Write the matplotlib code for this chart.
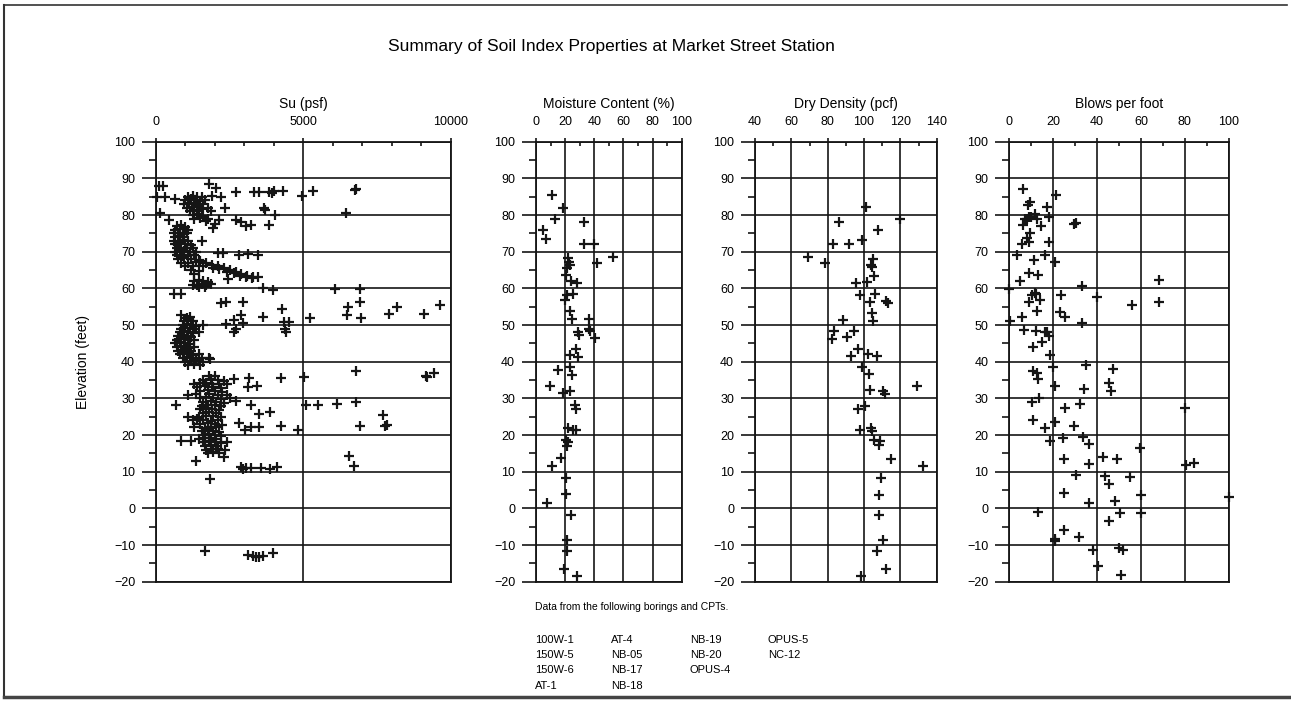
import matplotlib
matplotlib.use("Agg")
import matplotlib.pyplot as plt
import numpy as np
from matplotlib.ticker import MultipleLocator
from matplotlib.lines import Line2D

plt.rcParams['font.family'] = ['Liberation Sans', 'DejaVu Sans']

# undrained shear strength (psf, elevation ft)
su_obs = [
    (110, 88), (250, 88), (1800, 88.4), (2020, 87.5), (2720, 86.4), (3340, 86.4),
    (3510, 86.4), (3850, 86.4), (3950, 86.1), (4010, 86.5), (4300, 86.6), (4970, 85.2),
    (5320, 86.6), (6770, 87.1), (6740, 86.7), (45, 85), (300, 84.8), (640, 84.5),
    (1900, 85.2), (2200, 85), (3650, 81.8), (3700, 81.3), (2330, 81.8), (135, 80.6),
    (6450, 80.6), (450, 78.6), (1760, 79), (2150, 78.6), (2720, 78.6), (2900, 78),
    (3060, 77), (3230, 77.3), (3840, 77.3), (4050, 80), (1930, 76.6), (1570, 73),
    # cluster 79-85 ft
    (1100, 85), (1250, 85.3), (1400, 85), (1550, 84.8), (1000, 84), (1200, 84.4),
    (1350, 84.2), (1500, 83.8), (1650, 84.1), (950, 83), (1120, 83.3), (1300, 83.1),
    (1450, 82.7), (1600, 83), (1050, 82), (1220, 82.3), (1400, 82.1), (1550, 81.7),
    (1750, 82), (1150, 81), (1300, 81.4), (1450, 81.1), (1850, 81), (1250, 80),
    (1400, 80.2), (1600, 79.8), (1300, 79), (1500, 79.2), (1700, 78.5), (2000, 77.5),
    # cluster 60-77 ft
    (700, 77), (850, 77.2), (1000, 76.8), (650, 76), (820, 76.3), (950, 76.1), (1100, 75.8),
    (600, 75), (750, 75.1), (900, 74.7), (1050, 75), (650, 74), (800, 74.3), (950, 74.1),
    (600, 73), (750, 72.7), (900, 73.1), (1100, 73), (650, 72), (820, 72.3), (1000, 72.1),
    (1200, 71.8), (700, 71), (850, 70.7), (1050, 71.1), (1250, 71), (650, 70), (800, 70.3),
    (950, 70.1), (1150, 69.8), (1350, 70), (700, 69), (900, 68.7), (1100, 69.1), (1300, 69),
    (750, 68), (950, 68.3), (1200, 68.1), (1450, 67.8), (850, 67), (1100, 66.8), (1350, 67.1),
    (1500, 67.5), (1700, 67), (1900, 66.5), (2100, 66), (2300, 65.5), (2500, 65),
    (2700, 64.5), (2900, 64), (3100, 63.5), (3300, 63.2), (3450, 63), (1000, 66),
    (1250, 66.2), (1600, 66.2), (1950, 65.6), (2150, 65.2), (1200, 65), (1450, 64.8),
    (2400, 64.6), (2650, 64.2), (1300, 64), (2850, 63.4), (3050, 63), (3250, 62.8),
    (1300, 62), (1450, 62.3), (1600, 62.1), (1750, 61.8), (1250, 61), (1400, 60.8),
    (1550, 61.1), (1700, 61), (1850, 61.3), (1450, 60.5), (1650, 60.5), (2440, 62.5),
    (2100, 69.7), (2270, 69.7), (2830, 69), (3110, 69.3), (3470, 69),
    # 48-60 ft
    (600, 58.5), (865, 58.5), (3640, 60), (3960, 59.5), (6060, 59.7), (6930, 59.7),
    (6930, 56.4), (6520, 54.8), (6490, 52.7), (6970, 52), (7890, 53), (8190, 54.8),
    (9100, 53), (9630, 55.5), (2210, 56), (2380, 56.4), (2940, 56.2), (4270, 54.5),
    (3620, 52.3), (2890, 52.7), (2660, 51.4), (2940, 50.5), (2380, 50.3), (4350, 50.7),
    (4520, 50.9), (4380, 49), (5220, 51.8), (840, 52.7), (2700, 49), (2660, 48),
    (4400, 48),
    # cluster 39-52 ft
    (1050, 52), (1150, 52.2), (950, 51), (1100, 51.3), (1250, 51.1), (900, 50),
    (1050, 50.3), (1200, 50.1), (1350, 49.8), (1600, 50), (850, 49), (1000, 49.3),
    (1150, 49.1), (1300, 48.8), (800, 48), (950, 48.3), (1100, 48.1), (1250, 47.8),
    (1450, 48), (750, 47), (900, 47.3), (1050, 47.1), (1200, 46.8), (700, 46), (850, 46.3),
    (1000, 46.1), (1150, 45.8), (1300, 46), (650, 45), (800, 45.3), (950, 45.1), (1100, 44.8),
    (700, 44), (850, 44.3), (1000, 44.1), (1150, 43.8), (1300, 44), (750, 43), (900, 43.3),
    (1050, 43.1), (1200, 42.8), (800, 42), (950, 42.3), (1100, 42.1), (1250, 41.8), (1450, 42),
    (900, 41), (1050, 41.3), (1200, 41.1), (1350, 40.8), (1550, 41), (1800, 41), (1000, 40),
    (1150, 40.3), (1350, 40.1), (1600, 39.8), (1100, 39), (1300, 39.3), (1500, 39.1),
    (1820, 40.8),
    # 14-38 ft
    (2660, 35.3), (3170, 35.6), (3110, 33), (3420, 33.3), (4240, 35.5), (5020, 35.8),
    (6770, 37.6), (9160, 36.2), (9200, 35.8), (9440, 37), (670, 28.3), (1070, 25),
    (1290, 22.3), (840, 18.4), (1180, 18.4), (1370, 13), (1820, 8.1), (2720, 29.3),
    (3230, 28.3), (3510, 25.8), (3880, 26.2), (2830, 23.2), (3020, 21.4), (3230, 22.3),
    (3510, 22.3), (4240, 22.5), (4830, 21.5), (5080, 28.3), (5500, 28.3), (6150, 28.6),
    (6800, 28.9), (6910, 22.5), (7690, 25.5), (7760, 22.5), (7840, 22.8), (6540, 14.3),
    (6730, 11.6),
    (1800, 36), (2000, 36.2), (1600, 35), (1850, 35.3), (2100, 35.1), (2300, 34.8),
    (1300, 34), (1500, 34.3), (1700, 34.1), (1900, 33.8), (2150, 34), (2400, 34),
    (1400, 33), (1650, 33.3), (1950, 33.1), (2200, 32.8), (1500, 32), (1750, 32.3),
    (2000, 32.1), (2250, 31.8), (1100, 31), (1350, 31.3), (1800, 31.1), (2100, 30.8),
    (2400, 31), (1500, 30), (1700, 30.3), (1950, 30.1), (2200, 29.8), (2500, 30),
    (1600, 29), (1850, 29.3), (2050, 29.1), (2300, 28.8), (1550, 28), (1750, 28.3),
    (2000, 28.1), (2200, 27.8), (1500, 27), (1700, 27.3), (1900, 27.1), (2150, 26.8),
    (1600, 26), (1800, 26.3), (2050, 26.1), (1450, 25), (1700, 25.3), (1950, 25.1),
    (2200, 24.8), (1250, 24), (1400, 24.3), (1600, 24.1), (1850, 23.8), (2100, 24),
    (1500, 23), (1750, 23.3), (2000, 23.1), (2250, 22.8), (1650, 22), (1850, 22.3),
    (2050, 22.1), (1550, 21), (1750, 21.3), (1950, 21.1), (2150, 20.8), (1600, 20),
    (1800, 20.3), (2000, 20.1), (2200, 19.8), (1450, 19), (1650, 19.3), (1850, 19.1),
    (2050, 18.8), (1600, 18), (1800, 18.3), (2000, 18.1), (2200, 17.8), (2400, 18),
    (1650, 17), (1850, 17.3), (2050, 17.1), (1700, 16), (1900, 16.3), (2100, 16.1),
    (2350, 15.8), (1750, 15), (1950, 15.3), (2150, 15.1), (2300, 14),
    # 10-11 ft and below zero
    (2890, 11.3), (2950, 10.8), (3060, 11), (3230, 11.1), (3560, 11), (3880, 10.8),
    (4120, 11.3), (1650, -11.7), (3110, -12.6), (3280, -12.9), (3390, -13.2),
    (3510, -13.3), (3620, -13), (3980, -12.3),
]

# moisture content (%)
mc_pct = [10.8, 18.3, 13, 33, 4.6, 6.6, 33, 40, 52.6, 42, 21.7, 22.7, 23.3, 21.5,
          20.6, 23.8, 28, 25.6, 21.5, 19.9, 23, 24.6, 36.6, 29, 29.7, 36.6, 40.7,
          37, 27.5, 23, 29, 23.5, 24.6, 15.3, 9.6, 18.8, 23, 26.8, 27.5, 22.2,
          25.6, 27.5, 20.6, 22.2, 21.5, 17, 11.2, 20.6, 20.6, 7.3, 24, 21.5, 21,
          19.2, 28.4]
mc_elev = [85.5, 82, 79, 78.2, 76, 73.6, 72, 72, 68.5, 67, 68.4, 67.1, 66.5, 65.5,
           63.7, 61.9, 61.5, 58.4, 58.3, 56.7, 53.9, 51.6, 51.6, 48.2, 47.3, 48.9,
           46.6, 48.5, 43.5, 41.7, 41.4, 38.6, 36.5, 37.7, 33.5, 31.4, 31.9, 28.2,
           27, 21.8, 21.5, 21.3, 18.6, 18, 17, 13.7, 11.6, 8.3, 3.8, 1.5, -1.7,
           -8.6, -11.6, -16.4, -18.5]

# dry density (pcf)
dd_pcf = [101, 119.8, 86.4, 107.9, 98.7, 82.8, 91.7, 69.3, 78.5, 104.8, 103.7,
          104.2, 105.5, 95.6, 101.5, 97.7, 106.3, 103.3, 112, 113, 104.2, 104.8,
          88.6, 83.7, 94.5, 90.5, 82.6, 96.9, 92.8, 102, 107, 99, 103, 103.3,
          110.3, 111.6, 129.4, 100.4, 96.9, 98, 103.7, 104.2, 105.5, 108.8, 108.2,
          114.7, 132.3, 109.2, 108.1, 108.3, 110.3, 107, 112, 98.4]
dd_elev = [82.1, 78.9, 78.2, 76, 73.3, 72.1, 72.1, 68.6, 66.8, 68.1, 66.4, 65.9,
           63.5, 61.5, 61.7, 58.1, 58.5, 56.3, 56.6, 56.1, 53.4, 51.2, 51.3, 48.4,
           48.4, 46.7, 46.3, 43.6, 41.5, 42.1, 41.6, 38.5, 36.7, 32.2, 31.9, 31.3,
           33.5, 28, 27, 21.5, 21.8, 21.2, 18.6, 18.3, 17.2, 13.6, 11.5, 8.3, 3.6,
           -1.7, -8.5, -11.7, -16.5, -18.5]

# SPT blow counts
spt_blows = [6.1, 21.3, 9.4, 8.7, 17, 8, 10, 11.5, 12.8, 9, 7, 18.2, 6.1, 14.3,
             9.4, 8.2, 9, 5.6, 18.2, 3.3, 16.3, 20.8, 11.2, 9, 12.9, 4.9, 0, 11.5,
             10.5, 12.2, 9, 14, 12.5, 5.6, 23.6, 23.2, 25.4, 29.5, 30.4, 33.3, 40,
             56.1, 68.4, 68.1, 33, 0.3, 6.7, 12.2, 17, 16.4, 17.9, 10.9, 14.9, 18.5,
             19.8, 11, 12.5, 12.9, 21, 35, 47.1, 45.3, 46.5, 34.2, 13.4, 10.3, 25.5,
             32.2, 80, 10.6, 20.7, 16.4, 29.6, 33.7, 18.5, 24.6, 36.5, 59.6, 25.1,
             42.6, 48.9, 36.2, 80.5, 84.3, 30.4, 43.8, 55, 45.3, 25.1, 59.9, 100.3,
             36.5, 48.2, 12.9, 50.5, 60, 45.3, 25.1, 31.6, 21, 21, 38.3, 50.2, 51.7,
             40.6, 50.9]
spt_elev = [87, 85.5, 83.5, 82.8, 82.2, 78.8, 79.5, 80.3, 79, 79.4, 78.9, 79.5,
            77.3, 77.1, 75.1, 73.8, 72.6, 72.1, 72.6, 69.2, 69.2, 67.1, 67.7, 64.2,
            63.7, 62.1, 59.8, 58.7, 58.2, 58.4, 56.4, 56.8, 53.8, 52.2, 58.2, 53.5,
            52.3, 77.5, 77.7, 60.7, 57.7, 55.6, 62.4, 56.4, 50.6, 51, 48.6, 48.4, 48,
            48.2, 47.1, 43.9, 45.4, 41.8, 38.6, 37.5, 37, 35.4, 33.5, 39.1, 38, 34.2,
            32.1, 32.6, 30.2, 29, 27.5, 28.5, 27.5, 24.2, 23.6, 22, 22.5, 19.5, 18.4,
            19.1, 17.5, 16.5, 13.6, 14.1, 13.5, 12.1, 11.8, 12.5, 9.1, 8.7, 8.5, 6.6,
            4.2, 3.6, 3, 1.6, 1.9, -0.9, -1.3, -1.3, -3.4, -5.9, -7.9, -8.3, -8.9,
            -11.4, -10.9, -11.3, -15.8, -18.1]

borings = [["100W-1", "150W-5", "150W-6", "AT-1"],
           ["AT-4", "NB-05", "NB-17", "NB-18"],
           ["NB-19", "NB-20", "OPUS-4"],
           ["OPUS-5", "NC-12"]]

W, H = 1291, 701
fig = plt.figure(figsize=(W / 100, H / 100), dpi=100)
ink = '#151515'


def panel(left, right, xlim, major, minor, title):
    ax = fig.add_axes([left / W, 1 - 581.7 / H, (right - left) / W, 440 / H])
    ax.set_xlim(*xlim)
    ax.set_ylim(-20, 100)
    ax.xaxis.set_major_locator(MultipleLocator(major))
    ax.xaxis.set_minor_locator(MultipleLocator(minor))
    ax.yaxis.set_major_locator(MultipleLocator(10))
    ax.yaxis.set_minor_locator(MultipleLocator(5))
    ax.xaxis.tick_top()
    ax.tick_params(axis='x', which='major', direction='out', length=3, width=1.2,
                   labelsize=9, pad=7, color=ink)
    ax.tick_params(axis='x', which='minor', direction='in', length=3, width=1.2, color=ink)
    ax.tick_params(axis='y', which='major', direction='out', length=10, width=1.2,
                   labelsize=9, pad=5, color=ink)
    ax.tick_params(axis='y', which='minor', direction='out', length=5, width=1.2, color=ink)
    ax.grid(True, which='major', color=ink, lw=1.2)
    for s in ax.spines.values():
        s.set_linewidth(1.3)
        s.set_color(ink)
    ax.annotate(title, (0.5, 1), xycoords='axes fraction', xytext=(0, 27),
                textcoords='offset points', ha='center', va='center', fontsize=10)
    return ax


ax1 = panel(156, 450.7, (0, 10000), 5000, 1000, "Su (psf)")
ax2 = panel(536, 681.7, (0, 100), 20, 10, "Moisture Content (%)")
ax3 = panel(755, 936.7, (40, 140), 20, 10, "Dry Density (pcf)")
ax4 = panel(1009.3, 1228.7, (0, 100), 20, 10, "Blows per foot")

su = np.array(su_obs)
mk = dict(ls='none', marker='+', color=ink, ms=6.5, mew=1.6, clip_on=False, zorder=3)
ax1.plot(su[:, 0], su[:, 1], **mk)
ax2.plot(mc_pct, mc_elev, **mk)
ax3.plot(dd_pcf, dd_elev, **mk)
ax4.plot(spt_blows, spt_elev, **mk)

fig.text(83 / W, 1 - 362 / H, "Elevation (feet)", rotation=90, ha='center',
         va='center', fontsize=10)
fig.text(611 / W, 1 - 47 / H, "Summary of Soil Index Properties at Market Street Station",
         ha='center', va='center', fontsize=12.5)

fig.text(535 / W, 1 - 607 / H, "Data from the following borings and CPTs.",
         ha='left', va='center', fontsize=7.5)
col_x = [535, 611, 690, 768]
row_y = [640, 655, 670, 686]
for cx, names in zip(col_x, borings):
    for ry, name in zip(row_y, names):
        fig.text(cx / W, 1 - ry / H, name, ha='left', va='center', fontsize=8)

# page frame
fig.add_artist(Line2D([4 / W, 4 / W], [1 - 5 / H, 1 - 697 / H], color='#333', lw=1.5))
fig.add_artist(Line2D([4 / W, 1287 / W], [1 - 5 / H, 1 - 5 / H], color='#333', lw=1.2))
fig.add_artist(Line2D([4 / W, 1291 / W], [1 - 697 / H, 1 - 697 / H], color='#444', lw=2.5))

fig.savefig("out.png", dpi=100)
